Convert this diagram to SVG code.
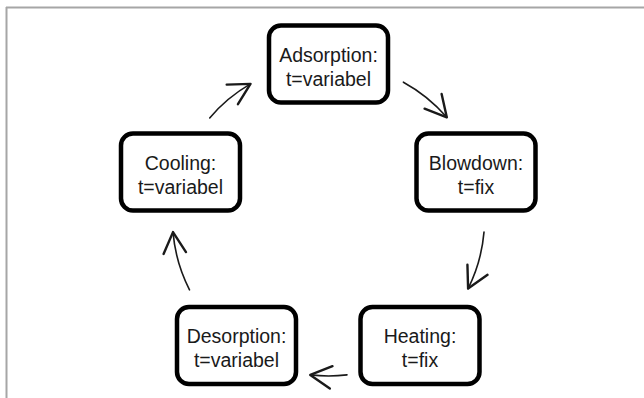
<svg xmlns="http://www.w3.org/2000/svg" width="644" height="398" viewBox="0 0 644 398">
  <defs>
    <style>
      .frame { stroke: #a6a6a6; stroke-width: 2; fill: none; }
      .box { fill: #ffffff; stroke: #000000; stroke-width: 4.5; }
      .lbl { font-family: "Liberation Sans", Arial, sans-serif; font-size: 19.5px; fill: #1a1a1a; text-anchor: middle; }
      .edge { fill: none; stroke: #1a1a1a; stroke-width: 1.6; stroke-linecap: round; }
    </style>
    <marker id="arrow" markerUnits="userSpaceOnUse" markerWidth="30" markerHeight="30" refX="0" refY="0" viewBox="-16 -10 20 20" orient="auto">
      <path d="M-14,-7.5 L0,0 L-14,7.5" fill="none" stroke="#1a1a1a" stroke-width="1.6" stroke-linecap="round" stroke-linejoin="round"/>
    </marker>
  </defs>
  <rect width="644" height="398" fill="#ffffff"/>
  <g id="frame">
    <line class="frame" x1="6" y1="7.5" x2="644" y2="7.5"/>
    <line class="frame" x1="6.5" y1="7" x2="6.5" y2="398"/>
  </g>
  <g id="connectors">
    <path class="edge" d="M403.4,82.2 A156,156 0 0 1 446.8,117.3" marker-end="url(#arrow)"/>
    <path class="edge" d="M484.0,232.1 A156,156 0 0 1 468.1,288.6" marker-end="url(#arrow)"/>
    <path class="edge" d="M347.0,374.9 A156,156 0 0 1 310.3,374.9" marker-end="url(#arrow)"/>
    <path class="edge" d="M189.5,289.8 A156,156 0 0 1 173.0,232.1" marker-end="url(#arrow)"/>
    <path class="edge" d="M209.7,117.9 A156,156 0 0 1 250.5,83.9" marker-end="url(#arrow)"/>
  </g>
  <g id="adsorption">
    <rect class="box" x="269" y="25.5" width="119" height="77" rx="12"/>
    <text class="lbl" x="328.5" y="62">Adsorption:</text>
    <text class="lbl" x="328.5" y="86">t=variabel</text>
  </g>
  <g id="blowdown">
    <rect class="box" x="416.5" y="133.5" width="119" height="77" rx="12"/>
    <text class="lbl" x="476" y="170">Blowdown:</text>
    <text class="lbl" x="476" y="194">t=fix</text>
  </g>
  <g id="heating">
    <rect class="box" x="360.5" y="307" width="119" height="77" rx="12"/>
    <text class="lbl" x="420" y="343">Heating:</text>
    <text class="lbl" x="420" y="367">t=fix</text>
  </g>
  <g id="desorption">
    <rect class="box" x="177" y="307" width="119" height="77" rx="12"/>
    <text class="lbl" x="236.5" y="343">Desorption:</text>
    <text class="lbl" x="236.5" y="367">t=variabel</text>
  </g>
  <g id="cooling">
    <rect class="box" x="121" y="133.5" width="119" height="77" rx="12"/>
    <text class="lbl" x="180.5" y="170">Cooling:</text>
    <text class="lbl" x="180.5" y="194">t=variabel</text>
  </g>
</svg>
